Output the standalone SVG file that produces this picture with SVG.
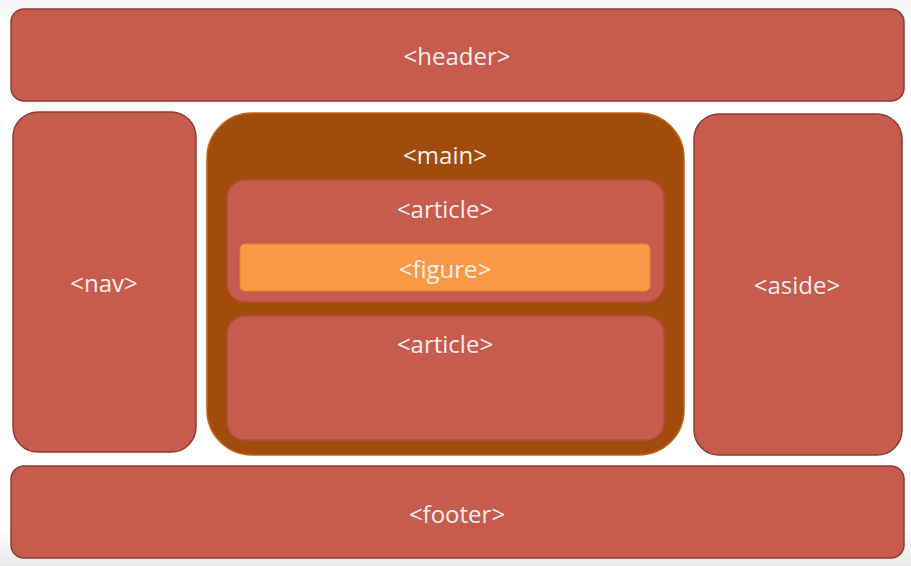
<svg xmlns="http://www.w3.org/2000/svg" width="911" height="566" viewBox="0 0 911 566">
  <defs>
    <linearGradient id="bg" x1="0" y1="0" x2="0" y2="1">
      <stop offset="0" stop-color="#f4f4f4"/>
      <stop offset="0.05" stop-color="#ffffff"/>
      <stop offset="0.93" stop-color="#ffffff"/>
      <stop offset="1" stop-color="#e9e9e9"/>
    </linearGradient>
  </defs>
  <style>
    .box { fill: #c65b4e; stroke: #8e3c33; stroke-width: 1.5; }
    .main { fill: #a14b0c; stroke: #c0650f; stroke-width: 1.5; }
    .inner { fill: #c65b4e; stroke: #b04f3e; stroke-width: 1.5; }
    .fig { fill: #f99944; stroke: #e8853a; stroke-width: 1; }
    .lbl { font-family: "Open Sans", "Liberation Sans", sans-serif; font-size: 24px; fill: #f7efec; text-anchor: middle; dominant-baseline: central; }
  </style>
  <rect x="0" y="0" width="911" height="566" fill="url(#bg)"/>
  <g id="header">
    <rect class="box" x="11" y="9" width="893" height="92" rx="13"/>
    <text class="lbl" x="457" y="55">&lt;header&gt;</text>
  </g>
  <g id="nav">
    <rect class="box" x="13" y="112" width="183" height="340" rx="25"/>
    <text class="lbl" x="104" y="282">&lt;nav&gt;</text>
  </g>
  <g id="main">
    <rect class="main" x="207" y="113" width="477" height="342" rx="45"/>
    <text class="lbl" x="445" y="154">&lt;main&gt;</text>
  </g>
  <g id="article1">
    <rect class="inner" x="227" y="180" width="437" height="122" rx="18"/>
    <text class="lbl" x="445" y="208">&lt;article&gt;</text>
  </g>
  <g id="figure">
    <rect class="fig" x="240" y="244" width="410" height="47" rx="5"/>
    <text class="lbl" x="445" y="268">&lt;figure&gt;</text>
  </g>
  <g id="article2">
    <rect class="inner" x="227" y="316" width="437" height="124" rx="18"/>
    <text class="lbl" x="445" y="343">&lt;article&gt;</text>
  </g>
  <g id="aside">
    <rect class="box" x="694" y="114" width="208" height="341" rx="25"/>
    <text class="lbl" x="797" y="284">&lt;aside&gt;</text>
  </g>
  <g id="footer">
    <rect class="box" x="11" y="466" width="893" height="92" rx="13"/>
    <text class="lbl" x="457" y="513">&lt;footer&gt;</text>
  </g>
  <g id="connectors"/>
</svg>
